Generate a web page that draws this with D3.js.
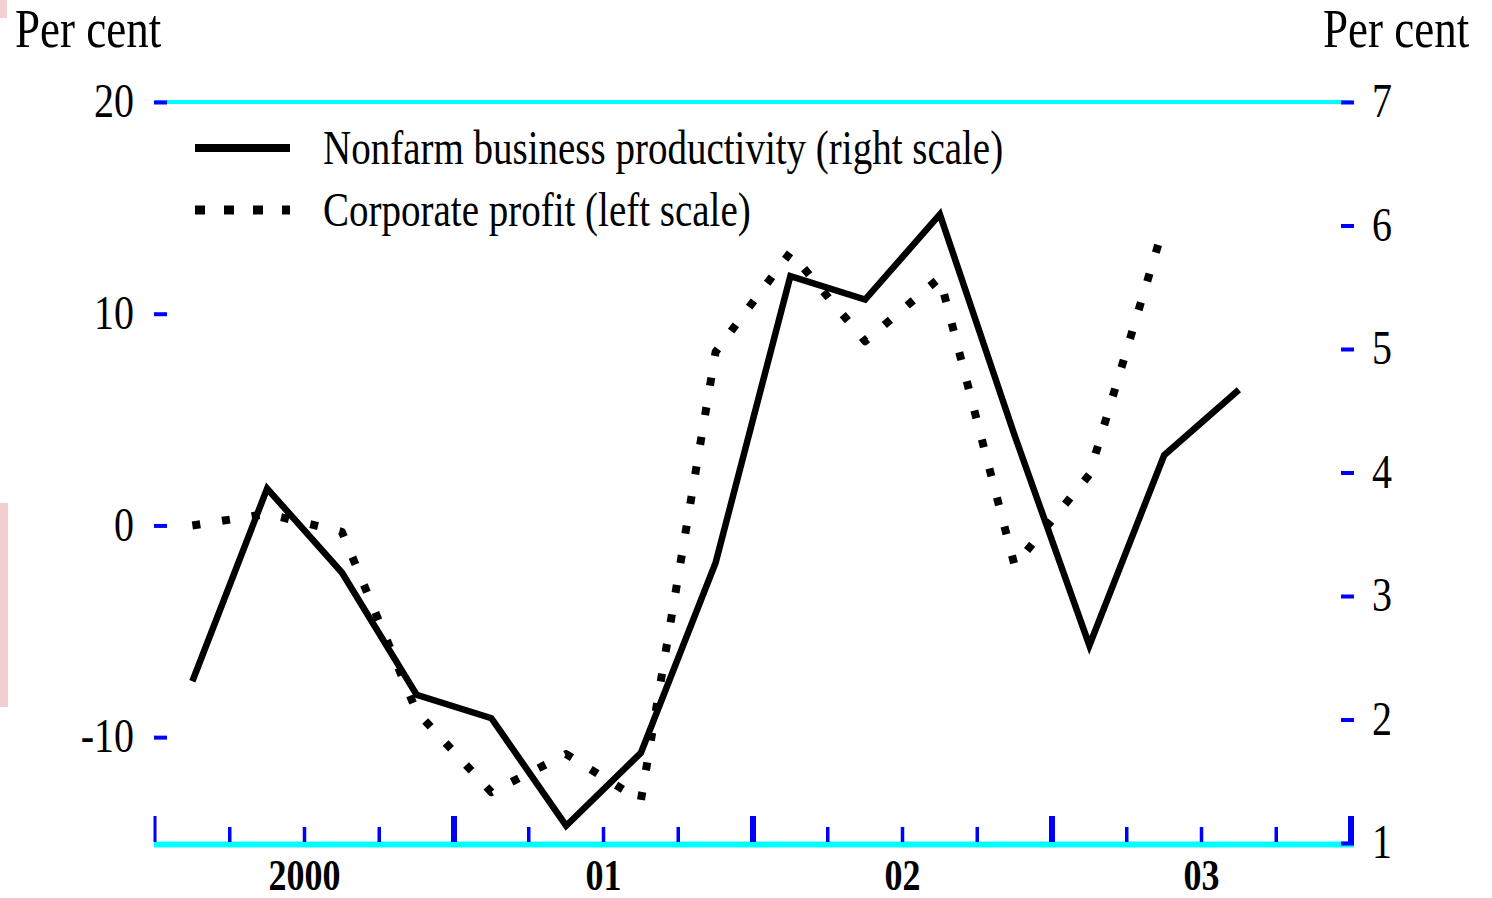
<!DOCTYPE html>
<html>
<head>
<meta charset="utf-8">
<script src="https://cdn.jsdelivr.net/npm/d3@7"></script>
<style>
  body { margin: 0; background: #fff; }
  svg { display: block; }
  text { font-family: "Liberation Serif", "Times New Roman", serif; fill: #000; }
</style>
</head>
<body>
<div id="chart"></div>
<script>
// quarters, Q1 2000 .. Q3 2003
var quarters = ['2000Q1','2000Q2','2000Q3','2000Q4','2001Q1','2001Q2','2001Q3','2001Q4',
	'2002Q1','2002Q2','2002Q3','2002Q4','2003Q1','2003Q2','2003Q3'];

// nonfarm business productivity, right scale (per cent)
var productivity = [2.31, 3.87, 3.19, 2.20, 2.01, 1.14, 1.73, 3.27, 5.59, 5.40, 6.09, 4.30, 2.60, 4.14, 4.67];

// corporate profit, left scale (per cent), ends at 2003Q2
var profit = [0.0, 0.55, -0.3, -8.8, -12.6, -10.8, -13.0, 8.2, 12.9, 8.7, 11.7, -1.9, 2.4, 14.2];

var years = [2000, 2001, 2002, 2003];
var yearLabels = ['2000', '01', '02', '03'];
var leftTicks = [20, 10, 0, -10];
var rightTicks = [7, 6, 5, 4, 3, 2, 1];

var legendItems = [
	{ label: 'Nonfarm business productivity (right scale)', dash: null },
	{ label: 'Corporate profit (left scale)', dash: '10 19' }
];

var width = 1492, height = 898;
var plotLeft = 155, plotRight = 1351, plotTop = 102, plotBottom = 843;
var sy = 'scale(1,1.22)';

var svg = d3.select('#chart').append('svg')
	.attr('width', width)
	.attr('height', height);

// bits of the scanned page edge
svg.append('rect').attr('x', 0).attr('y', 0).attr('width', 7).attr('height', 18).attr('fill', '#f4cfd0');
svg.append('rect').attr('x', 0).attr('y', 503).attr('width', 8).attr('height', 204).attr('fill', '#f4cfd0');

var x = d3.scaleLinear().domain([2000, 2004]).range([plotLeft, plotRight]);
var yL = d3.scaleLinear().domain([-15, 20]).range([plotBottom, plotTop]);
var yR = d3.scaleLinear().domain([1, 7]).range([plotBottom, plotTop]);

function qx(q) {
	var yr = +q.slice(0, 4), n = +q.slice(5);
	return x(yr + (n - 0.5) / 4);
}

// frame lines
svg.append('line')
	.attr('x1', plotLeft).attr('x2', plotRight)
	.attr('y1', plotTop).attr('y2', plotTop)
	.attr('stroke', '#00ffff').attr('stroke-width', 4);

svg.append('line')
	.attr('x1', plotLeft - 1).attr('x2', plotRight + 3)
	.attr('y1', plotBottom + 1.5).attr('y2', plotBottom + 1.5)
	.attr('stroke', '#00ffff').attr('stroke-width', 6);

// quarter ticks on the time axis
var qTicks = d3.range(0, 17).map(function(i) { return 2000 + i / 4; });
svg.append('g').selectAll('line')
	.data(qTicks)
	.enter()
	.append('line')
	.attr('x1', function(d) { return x(d); })
	.attr('x2', function(d) { return x(d); })
	.attr('y1', plotBottom - 1)
	.attr('y2', function(d) { return d % 1 === 0 ? plotBottom - 27 : plotBottom - 16; })
	.attr('stroke', '#0000ff')
	.attr('stroke-width', function(d, i) { return i === 0 ? 3 : (d % 1 === 0 ? 6 : 3.5); });

// year labels
svg.append('g').selectAll('text')
	.data(years)
	.enter()
	.append('text')
	.attr('transform', function(d) { return 'translate(' + x(d + 0.5) + ',890) ' + sy; })
	.attr('text-anchor', 'middle')
	.style('font-size', '36px')
	.style('font-weight', 'bold')
	.text(function(d, i) { return yearLabels[i]; });

// left axis
var axL = svg.append('g')
	.attr('transform', 'translate(' + plotLeft + ',0)')
	.call(d3.axisLeft(yL).tickValues(leftTicks).tickSize(-12).tickPadding(21).tickFormat(d3.format('d')));
axL.select('.domain').remove();
axL.selectAll('.tick line').attr('stroke', '#0000ff').attr('stroke-width', 4).attr('x1', -1);
axL.selectAll('.tick text')
	.attr('transform', sy)
	.attr('dy', '0.3em')
	.style('font-size', '40px')
	.style('font-family', '"Liberation Serif", serif')
	.text(function(d) { return d < 0 ? '-' + Math.abs(d) : d; });

// right axis
var axR = svg.append('g')
	.attr('transform', 'translate(' + plotRight + ',0)')
	.call(d3.axisRight(yR).tickValues(rightTicks).tickSize(-10).tickPadding(21).tickFormat(d3.format('d')));
axR.select('.domain').remove();
axR.selectAll('.tick line').attr('stroke', '#0000ff').attr('stroke-width', 4).attr('x1', 3);
axR.selectAll('.tick text')
	.attr('transform', sy)
	.attr('dy', '0.3em')
	.style('font-size', '40px')
	.style('font-family', '"Liberation Serif", serif');

// unit headers
svg.append('text')
	.attr('transform', 'translate(15,47) ' + sy)
	.style('font-size', '45px')
	.text('Per cent');
svg.append('text')
	.attr('transform', 'translate(1323,47) ' + sy)
	.style('font-size', '45px')
	.text('Per cent');

// series
var lineR = d3.line()
	.x(function(d, i) { return qx(quarters[i]); })
	.y(function(d) { return yR(d); });

var lineL = d3.line()
	.x(function(d, i) { return qx(quarters[i]); })
	.y(function(d) { return yL(d); });

svg.append('path')
	.datum(profit)
	.attr('d', lineL)
	.attr('fill', 'none')
	.attr('stroke', '#000')
	.attr('stroke-width', 8)
	.attr('stroke-dasharray', '8 22')
	.attr('stroke-linejoin', 'round');

svg.append('path')
	.datum(productivity)
	.attr('d', lineR)
	.attr('fill', 'none')
	.attr('stroke', '#000')
	.attr('stroke-width', 6.5)
	.attr('stroke-linejoin', 'miter');

// legend
var legend = svg.append('g').selectAll('g')
	.data(legendItems)
	.enter()
	.append('g')
	.attr('transform', function(d, i) { return 'translate(0,' + (148 + i * 62) + ')'; });

legend.append('line')
	.attr('x1', 195).attr('x2', 290)
	.attr('y1', 0).attr('y2', 0)
	.attr('stroke', '#000')
	.attr('stroke-width', function(d) { return d.dash ? 9 : 8; })
	.attr('stroke-dasharray', function(d) { return d.dash; });

legend.append('text')
	.attr('transform', 'translate(323,16) ' + sy)
	.style('font-size', '39px')
	.text(function(d) { return d.label; });
</script>
</body>
</html>
